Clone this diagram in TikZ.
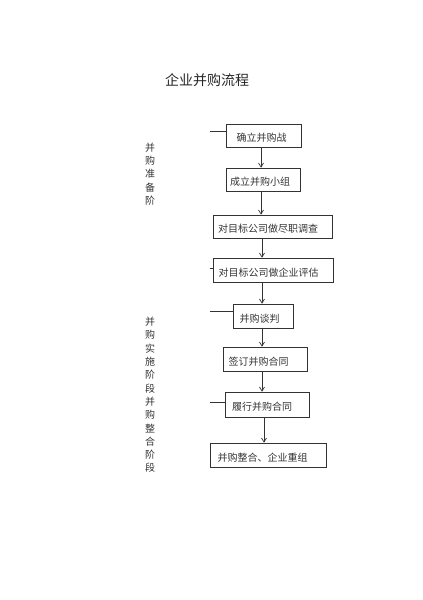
\documentclass[tikz,border=0pt]{standalone}
\usepackage{fontspec}
\setmainfont{Noto Sans CJK SC}
\usetikzlibrary{arrows.meta}
\begin{document}
\begin{tikzpicture}[x=1pt,y=-1pt,
  stepbox/.style={draw=black!80, line width=0.7pt, rectangle, inner sep=0pt,
     text height=12pt, text depth=0pt,
     font=\fontsize{10}{12}\selectfont, text=black!80},
  shl/.style={execute at begin node={\kern-#1pt}},
  arr/.style={draw=black!80, line width=0.7pt, -{Straight Barb[length=4pt,width=5pt]}},
  tick/.style={draw=black!80, line width=0.6pt},
  side/.style={font=\fontsize{10}{13.3}\selectfont, text=black!80, align=center, inner sep=0pt}
]
\useasboundingbox (0,0) rectangle (423,600);

\node[font=\fontsize{14}{16}\selectfont, text=black!85] (title) at (207,80) {企业并购流程};

\node[side] (s1) at (150,174) {并\\购\\准\\备\\阶};
\node[side] (s2) at (150,395) {并\\购\\实\\施\\阶\\段\\并\\购\\整\\合\\阶\\段};

\node[stepbox, minimum width=75pt, minimum height=23pt, shl=4] (b1) at (263.5,135.5) {确立并购战};
\node[stepbox, minimum width=74pt, minimum height=23pt, shl=6] (b2) at (263,179.5) {成立并购小组};
\node[stepbox, minimum width=119pt, minimum height=23pt, shl=9] (b3) at (272.5,226.5) {对目标公司做尽职调查};
\node[stepbox, minimum width=120pt, minimum height=24pt, shl=9] (b4) at (273,270) {对目标公司做企业评估};
\node[stepbox, minimum width=60pt, minimum height=24pt, shl=7] (b5) at (263,316) {并购谈判};
\node[stepbox, minimum width=84pt, minimum height=24pt, shl=13] (b6) at (265,359) {签订并购合同};
\node[stepbox, minimum width=84pt, minimum height=25pt, shl=10] (b7) at (267,404.5) {履行并购合同};
\node[stepbox, minimum width=116pt, minimum height=24pt, shl=11] (b8) at (268,455) {并购整合、企业重组};

\coordinate (a1) at (261,0);
\coordinate (a2) at (261,0);
\coordinate (a3) at (262,0);
\coordinate (a4) at (262,0);
\coordinate (a5) at (262,0);
\coordinate (a6) at (262,0);
\coordinate (a7) at (264,0);

\draw[arr] (b1.south -| a1) -- (b2.north -| a1);
\draw[arr] (b2.south -| a2) -- (b3.north -| a2);
\draw[arr] (b3.south -| a3) -- (b4.north -| a3);
\draw[arr] (b4.south -| a4) -- (b5.north -| a4);
\draw[arr] (b5.south -| a5) -- (b6.north -| a5);
\draw[arr] (b6.south -| a6) -- (b7.north -| a6);
\draw[arr] (b7.south -| a7) -- (b8.north -| a7);

\coordinate (t1) at (210,131);
\coordinate (t4) at (210,268);
\coordinate (t5) at (210,311);
\coordinate (t7) at (210,402);
\draw[tick] (t1) -- (t1 -| b1.west);
\draw[tick] (t4) -- (t4 -| b4.west);
\draw[tick] (t5) -- (t5 -| b5.west);
\draw[tick] (t7) -- (t7 -| b7.west);
\end{tikzpicture}
\end{document}
